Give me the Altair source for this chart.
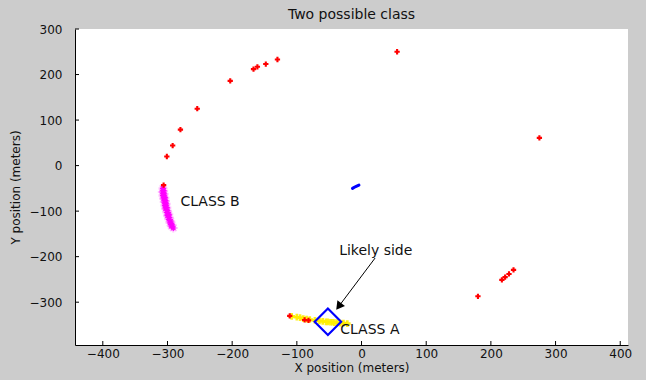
import altair as alt
import pandas as pd

# Detections (x, y in meters)
red_x = [55, -130, -148, -161, -167, -203, -254, -280, -292, -301, -306,
         275, 235, 228, 222, 217, 180, -111, -88, -82]
red_y = [250, 233, 223, 217, 212, 186, 125, 79, 44, 20, -43,
         61, -229, -238, -245, -251, -287, -330, -339, -340]

# Class B track (magenta)
b_x = [-307, -306, -308, -305, -307, -304, -306, -303, -305, -302, -304, -301,
       -303, -300, -301, -298, -300, -297, -298, -295, -296, -293, -294, -291]
b_y = [-50, -55, -58, -62, -66, -70, -73, -77, -80, -84, -88, -92,
       -95, -99, -103, -107, -110, -114, -118, -122, -126, -130, -133, -137]

# Class A track (yellow)
a_x = [-108, -100, -95, -90, -85, -80, -72, -65, -60, -55, -52, -48, -45, -42, -38, -33, -28, -22]
a_y = [-331, -333, -334, -336, -337, -338, -340, -341, -342, -343, -343, -344, -344, -345, -345, -346, -346, -347]

# Short blue track
blue_x = [-14, -9, -4]
blue_y = [-50, -46, -43]

# Candidate position (diamond)
cand_x = [-52]
cand_y = [-343]

# Annotation arrow: start, end, head
arrow_x = [21, -34]
arrow_y = [-203, -307]
head_x = [-34]
head_y = [-307]

# Text labels
center_text = ["Likely side"]
center_x = [22]
center_y = [-187]
left_text = ["CLASS B", "CLASS A"]
left_x = [-280, -33]
left_y = [-80, -360]

x_ticks = [-400, -300, -200, -100, 0, 100, 200, 300, 400]
y_ticks = [-300, -200, -100, 0, 100, 200, 300]

X_DOM = [-443, 412]
Y_DOM = [-394, 300]
W, H = 553, 316
FONT = "DejaVu Sans"

xs = alt.Scale(domain=X_DOM, nice=False, zero=False)
ys = alt.Scale(domain=Y_DOM, nice=False, zero=False)

x_axis = alt.Axis(values=x_ticks, tickSize=0, labelPadding=3, labelFontSize=12,
                  labelFont=FONT, labelColor="#111", domainColor="#000",
                  grid=False, title="X position (meters)", titleFont=FONT,
                  titleFontSize=12, titleFontWeight="normal", titleColor="#111",
                  titlePadding=3)
y_axis = alt.Axis(values=y_ticks, tickSize=0, labelPadding=13, labelFontSize=12,
                  labelFont=FONT, labelColor="#111", domainColor="#000",
                  grid=False, title="Y position (meters)", titleFont=FONT,
                  titleFontSize=12, titleFontWeight="normal", titleColor="#111",
                  titlePadding=7)

red_df = pd.DataFrame({"x": red_x, "y": red_y})
b_df = pd.DataFrame({"x": b_x, "y": b_y})
a_df = pd.DataFrame({"x": a_x, "y": a_y})
blue_df = pd.DataFrame({"x": blue_x, "y": blue_y, "o": list(range(len(blue_x)))})
cand_df = pd.DataFrame({"x": cand_x, "y": cand_y})
arrow_df = pd.DataFrame({"x": arrow_x, "y": arrow_y, "o": [0, 1]})
head_df = pd.DataFrame({"x": head_x, "y": head_y})
center_df = pd.DataFrame({"t": center_text, "x": center_x, "y": center_y})
left_df = pd.DataFrame({"t": left_text, "x": left_x, "y": left_y})
xt_df = pd.DataFrame({"v": x_ticks})
yt_df = pd.DataFrame({"v": y_ticks})

base_axes = alt.Chart(red_df).mark_point(opacity=0).encode(
    x=alt.X("x:Q", scale=xs, axis=x_axis),
    y=alt.Y("y:Q", scale=ys, axis=y_axis),
)


def xq():
    return alt.X("x:Q", scale=xs)


def yq():
    return alt.Y("y:Q", scale=ys)


asterisk = "M-1,0L1,0M0,-1L0,1M-0.7,-0.7L0.7,0.7M-0.7,0.7L0.7,-0.7"

b_halo = alt.Chart(b_df).mark_point(shape=asterisk, size=80, color="#ff99ff",
                                    strokeWidth=2, opacity=0.6).encode(x=xq(), y=yq())
b_pts = alt.Chart(b_df).mark_point(shape=asterisk, size=35, color="#ff00ff",
                                   strokeWidth=1.2, opacity=1).encode(x=xq(), y=yq())

a_line = alt.Chart(a_df).mark_line(color="#ffee00", strokeWidth=2).encode(x=xq(), y=yq())
a_pts = alt.Chart(a_df).mark_point(shape="cross", size=45, color="#ffee00",
                                   filled=True, opacity=0.9).encode(x=xq(), y=yq())

red_pts = alt.Chart(red_df).mark_point(shape="cross", size=28, color="#ff0000",
                                       filled=True, opacity=1).encode(x=xq(), y=yq())

blue_line = alt.Chart(blue_df).mark_line(color="#0000ff", strokeWidth=3,
                                         strokeCap="round").encode(
    x=xq(), y=yq(), order="o:Q")

cand = alt.Chart(cand_df).mark_point(shape="diamond", size=700, color="#0000ff",
                                     filled=False, strokeWidth=2.2, opacity=1).encode(x=xq(), y=yq())

arrow_line = alt.Chart(arrow_df).mark_line(color="#000", strokeWidth=1).encode(
    x=xq(), y=yq(), order="o:Q")
arrow_head = alt.Chart(head_df).mark_point(shape="triangle", size=90, angle=217,
                                           color="#000", filled=True, opacity=1).encode(x=xq(), y=yq())

center_labels = alt.Chart(center_df).mark_text(font=FONT, fontSize=14, color="#111",
                                               baseline="middle", align="center").encode(
    x=xq(), y=yq(), text="t:N")
left_labels = alt.Chart(left_df).mark_text(font=FONT, fontSize=14, color="#111",
                                           baseline="middle", align="left").encode(
    x=xq(), y=yq(), text="t:N")

x_tick_marks = alt.Chart(xt_df).mark_rule(color="#000", strokeWidth=1).encode(
    x=alt.X("v:Q", scale=xs), y=alt.value(H), y2=alt.value(H - 4))
y_tick_marks = alt.Chart(yt_df).mark_rule(color="#000", strokeWidth=1).encode(
    y=alt.Y("v:Q", scale=ys), x=alt.value(0), x2=alt.value(4))

chart = alt.layer(
    base_axes, b_halo, b_pts, a_line, a_pts, red_pts, blue_line, cand,
    arrow_line, arrow_head, center_labels, left_labels, x_tick_marks, y_tick_marks,
).properties(
    width=W, height=H,
    title=alt.TitleParams("Two possible class", font=FONT, fontSize=14,
                          fontWeight="normal", color="#111", offset=1),
    autosize=alt.AutoSizeParams(type="none"),
    padding={"left": 75, "top": 29, "right": 18, "bottom": 35},
    background="#cccccc",
).configure_view(fill="#ffffff", stroke=None)

chart.save("out.html", embed_options={"renderer": "svg", "actions": False})
